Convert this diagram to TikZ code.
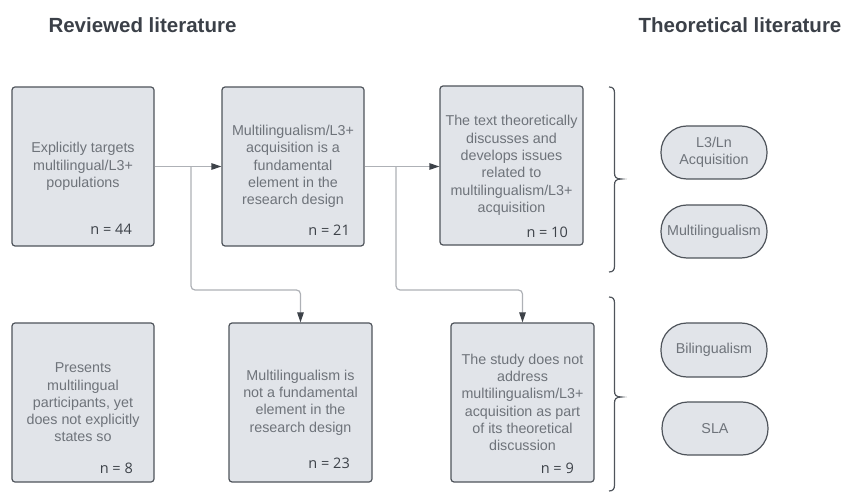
\documentclass[tikz,border=0pt]{standalone}
\usepackage{fontspec}
\setmainfont{Liberation Sans}
\newfontfamily\nfont{Open Sans}
\usetikzlibrary{arrows.meta,calc}
\definecolor{boxfill}{HTML}{E1E4E9}
\definecolor{boxline}{HTML}{4F545B}
\definecolor{boxtext}{HTML}{6E737A}
\definecolor{headc}{HTML}{3B4048}
\definecolor{ntext}{HTML}{3D4249}
\definecolor{connc}{HTML}{AEB1B6}
\definecolor{tipc}{HTML}{3D4249}
\begin{document}
\begin{tikzpicture}[x=1bp,y=-1bp,
  heading/.style={font=\fontsize{20.5bp}{24bp}\selectfont\bfseries, text=headc, inner sep=0pt},
  stepbox/.style={draw=boxline, line width=1.2bp, fill=boxfill, rounded corners=3bp,
    minimum width=142bp, minimum height=159bp, inner sep=0pt, align=center, text=boxtext,
    font=\fontsize{14.3bp}{17.3bp}\selectfont},
  pill/.style={draw=boxline, line width=1.2bp, fill=boxfill, rounded corners=26bp,
    minimum width=106bp, minimum height=53bp, inner sep=0pt, align=center, text=boxtext,
    font=\fontsize{14.3bp}{17.3bp}\selectfont},
  nlab/.style={font=\nfont\fontsize{14.5bp}{17bp}\selectfont, text=ntext, inner sep=0pt, anchor=east},
  conn/.style={draw=connc, line width=1.2bp, -{Triangle[length=10bp,width=6.5bp,color=tipc]}},
  bracec/.style={draw=boxline, line width=1.2bp}
]
\useasboundingbox (0,0) rectangle (842,492);

\node[heading] (h1) at (142.5,25) {Reviewed literature};
\node[heading] (h2) at (740,25) {Theoretical literature};

\node[stepbox] (b1) at (83,166.5) {Explicitly targets\\multilingual/L3+\\populations};
\node[stepbox] (b2) at (293,166.5) {Multilingualism/L3+\\acquisition is a\\fundamental\\element in the\\research design};
\node[stepbox, minimum width=143bp] (b3) at (511.5,165.5) {The text theoretically\\discusses and\\develops issues\\related to\\multilingualism/L3+\\acquisition};
\node[stepbox] (b4) at (83,402.5) {Presents\\multilingual\\participants, yet\\does not explicitly\\states so};
\node[stepbox, minimum width=143bp] (b5) at (300.5,402.5) {Multilingualism is\\not a fundamental\\element in the\\research design};
\node[stepbox, minimum width=143bp] (b6) at (522.5,402.5) {The study does not\\address\\multilingualism/L3+\\acquisition as part\\of its theoretical\\discussion};

\node[nlab] (n1) at (132,229) {n = 44};
\node[nlab] (n2) at (350,230) {n = 21};
\node[nlab] (n3) at (568,232) {n = 10};
\node[nlab] (n4) at (133,468) {n = 8};
\node[nlab] (n5) at (350,463) {n = 23};
\node[nlab] (n6) at (574,468) {n = 9};

\node[pill] (s1) at (714,152.5) {L3/Ln\\Acquisition};
\node[pill] (s2) at (714,231.5) {Multilingualism};
\node[pill, minimum height=54bp] (s3) at (714,350) {Bilingualism};
\node[pill] (s4) at (715,428.5) {SLA};

\coordinate (j1) at (191,166.5);
\coordinate (k1) at (300.5,290);
\coordinate (j2) at (396,166.5);
\coordinate (k2) at (522.5,290);

\draw[conn] (b1.east) -- (b2.west);
\draw[conn] (b2.east) -- (b2.east -| b3.west);
\draw[conn, rounded corners=4bp] (j1) |- (k1) -- (b5.north);
\draw[conn, rounded corners=4bp] (j2) |- (k2) -- (b6.north);

\draw[bracec] (609,87) .. controls (613,87) and (614.5,89) .. (614.5,93) -- (614.5,173)
  .. controls (614.5,177) and (616,179) .. (621.5,179)
  .. controls (616,179) and (614.5,181) .. (614.5,185) -- (614.5,266)
  .. controls (614.5,270) and (613,272) .. (609,272);
\draw[bracec] (609,297) .. controls (613,297) and (614.5,299) .. (614.5,303) -- (614.5,391)
  .. controls (614.5,395) and (616,397) .. (621.5,397)
  .. controls (616,397) and (614.5,399) .. (614.5,403) -- (614.5,485)
  .. controls (614.5,489) and (613,491) .. (609,491);
\end{tikzpicture}
\end{document}
